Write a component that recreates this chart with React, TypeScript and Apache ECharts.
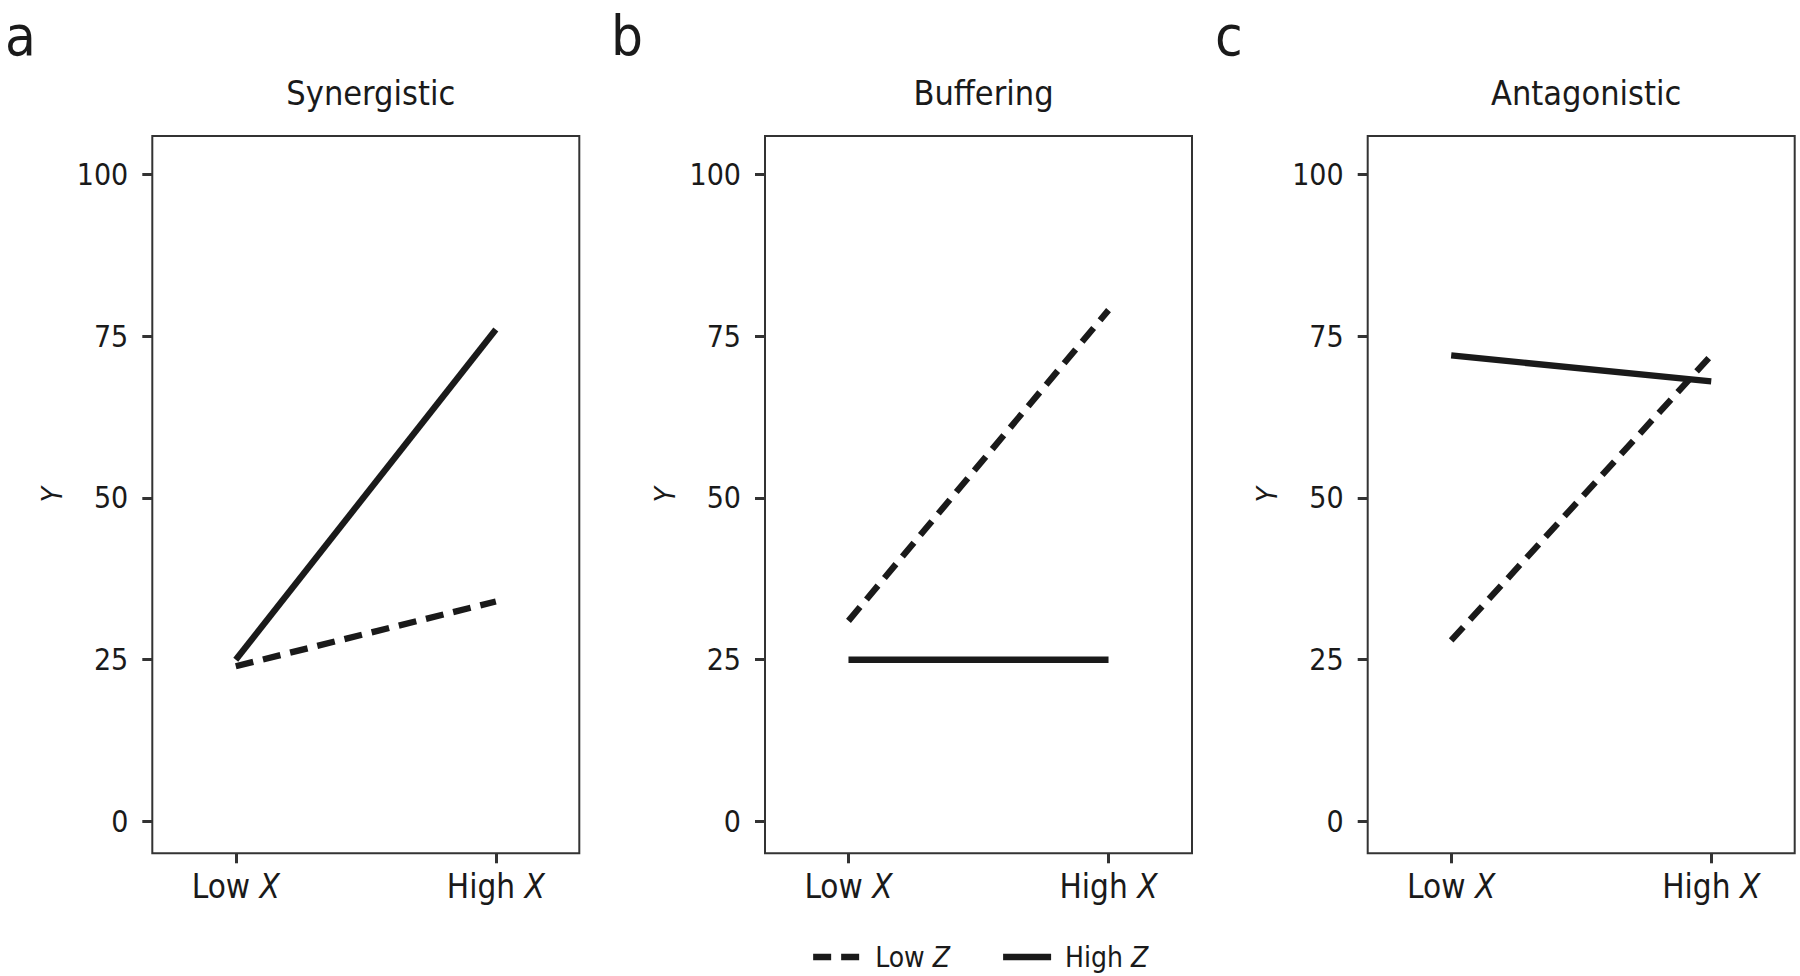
import React, { useEffect, useRef } from "react";
import * as echarts from "echarts";

// ---- data ----
const xLevels = [1, 2];
const xLabels = ["Low", "High"];
const yTicks = [0, 25, 50, 75, 100];
const panelLetters = ["a", "b", "c"];
const panelTitles = ["Synergistic", "Buffering", "Antagonistic"];
const seriesNames = ["Low Z", "High Z"];
const lowZ_a = [24, 34];
const highZ_a = [25, 76];
const lowZ_b = [31, 79];
const highZ_b = [25, 25];
const lowZ_c = [28, 72];
const highZ_c = [72, 68];

const lowZ = [lowZ_a, lowZ_b, lowZ_c];
const highZ = [highZ_a, highZ_b, highZ_c];

const FONT = "'Liberation Sans Narrow', 'DejaVu Sans Condensed', 'Roboto', sans-serif";
const INK = "#1a1a1a";
const DASH = [18, 10];
const LW = 6.3;

const gridLefts = [152.3, 765, 1367.7];
const gridWidth = 427;
const gridTop = 136;
const gridHeight = 717.3;
const letterLefts = [5, 611, 1215];

export default function App() {
  const ref = useRef<HTMLDivElement>(null);
  useEffect(() => {
    if (!ref.current) return;
    const chart = echarts.init(ref.current, null, { renderer: "svg" });

    const grids = gridLefts.map((l) => ({
      left: l,
      top: gridTop,
      width: gridWidth,
      height: gridHeight,
      show: true,
      borderColor: "#333",
      borderWidth: 2,
      backgroundColor: "transparent",
      containLabel: false,
    }));

    const xAxes = gridLefts.map((_, i) => ({
      type: "value",
      gridIndex: i,
      position: "bottom",
      min: 0.679,
      max: 2.321,
      axisLine: { show: false, onZero: false },
      splitLine: { show: false },
      axisTick: {
        show: true,
        customValues: xLevels,
        length: 10,
        lineStyle: { color: "#333", width: 3 },
      },
      axisLabel: {
        show: true,
        customValues: xLevels,
        margin: 17,
        formatter: (v: number) => {
          const idx = xLevels.indexOf(Math.round(v));
          return `{n|${xLabels[idx]} }{i|X}`;
        },
        rich: {
          n: { fontFamily: FONT, fontSize: 33, color: INK },
          i: { fontFamily: FONT, fontSize: 33, color: INK, fontStyle: "italic" },
        },
      },
    }));

    const yAxes = gridLefts.map((_, i) => ({
      type: "value",
      gridIndex: i,
      position: "left",
      min: -4.9,
      max: 105.9,
      axisLine: { show: false, onZero: false },
      splitLine: { show: false },
      axisTick: {
        show: true,
        customValues: yTicks,
        length: 10,
        lineStyle: { color: "#333", width: 3 },
      },
      axisLabel: {
        show: true,
        customValues: yTicks,
        margin: 24,
        fontFamily: FONT,
        fontSize: 30,
        color: INK,
      },
      name: "Y",
      nameLocation: "middle",
      nameGap: 86,
      nameRotate: 90,
      nameTextStyle: {
        fontFamily: FONT,
        fontSize: 28,
        fontStyle: "italic",
        color: INK,
      },
    }));

    const series: any[] = [];
    for (let i = 0; i < 3; i++) {
      series.push({
        name: seriesNames[0],
        type: "line",
        xAxisIndex: i,
        yAxisIndex: i,
        symbol: "none",
        data: xLevels.map((x, k) => [x, lowZ[i][k]]),
        lineStyle: { color: INK, width: LW, type: DASH, cap: "butt" },
        itemStyle: { color: INK },
      });
      series.push({
        name: seriesNames[1],
        type: "line",
        xAxisIndex: i,
        yAxisIndex: i,
        symbol: "none",
        data: xLevels.map((x, k) => [x, highZ[i][k]]),
        lineStyle: { color: INK, width: LW, type: "solid", cap: "butt" },
        itemStyle: { color: INK },
      });
    }

    const titles: any[] = [];
    gridLefts.forEach((l, i) => {
      titles.push({
        text: panelTitles[i],
        left: l + gridWidth / 2,
        textAlign: "center",
        top: 71,
        textStyle: { fontFamily: FONT, fontSize: 34, fontWeight: "normal", color: INK },
      });
      titles.push({
        text: panelLetters[i],
        left: letterLefts[i],
        top: 1,
        padding: 0,
        textStyle: {
          fontFamily: FONT,
          fontSize: 56,
          lineHeight: 68,
          fontWeight: "normal",
          color: INK,
        },
      });
    });

    chart.setOption({
      animation: false,
      backgroundColor: "#fff",
      title: titles,
      grid: grids,
      xAxis: xAxes,
      yAxis: yAxes,
      legend: {
        data: [
          {
            name: seriesNames[0],
            itemStyle: { opacity: 0 },
            lineStyle: { type: DASH, width: LW, color: INK, cap: "butt" },
          },
          {
            name: seriesNames[1],
            itemStyle: { opacity: 0 },
            lineStyle: { type: "solid", width: LW, color: INK, cap: "butt" },
          },
        ],
        left: 805,
        top: 938,
        itemWidth: 48,
        itemHeight: 14,
        itemGap: 50,
        formatter: (name: string) => {
          const parts = name.split(" ");
          return `{n|${parts[0]} }{i|${parts[1]}}`;
        },
        textStyle: {
          padding: [0, 0, 0, 9],
          rich: {
            n: { fontFamily: FONT, fontSize: 28, color: INK },
            i: { fontFamily: FONT, fontSize: 28, color: INK, fontStyle: "italic" },
          },
        },
      },
      series,
    });
    return () => chart.dispose();
  }, []);
  return (
    <div
      ref={ref}
      style={{ position: "absolute", left: 0, top: 0, width: 1800, height: 976 }}
    />
  );
}
